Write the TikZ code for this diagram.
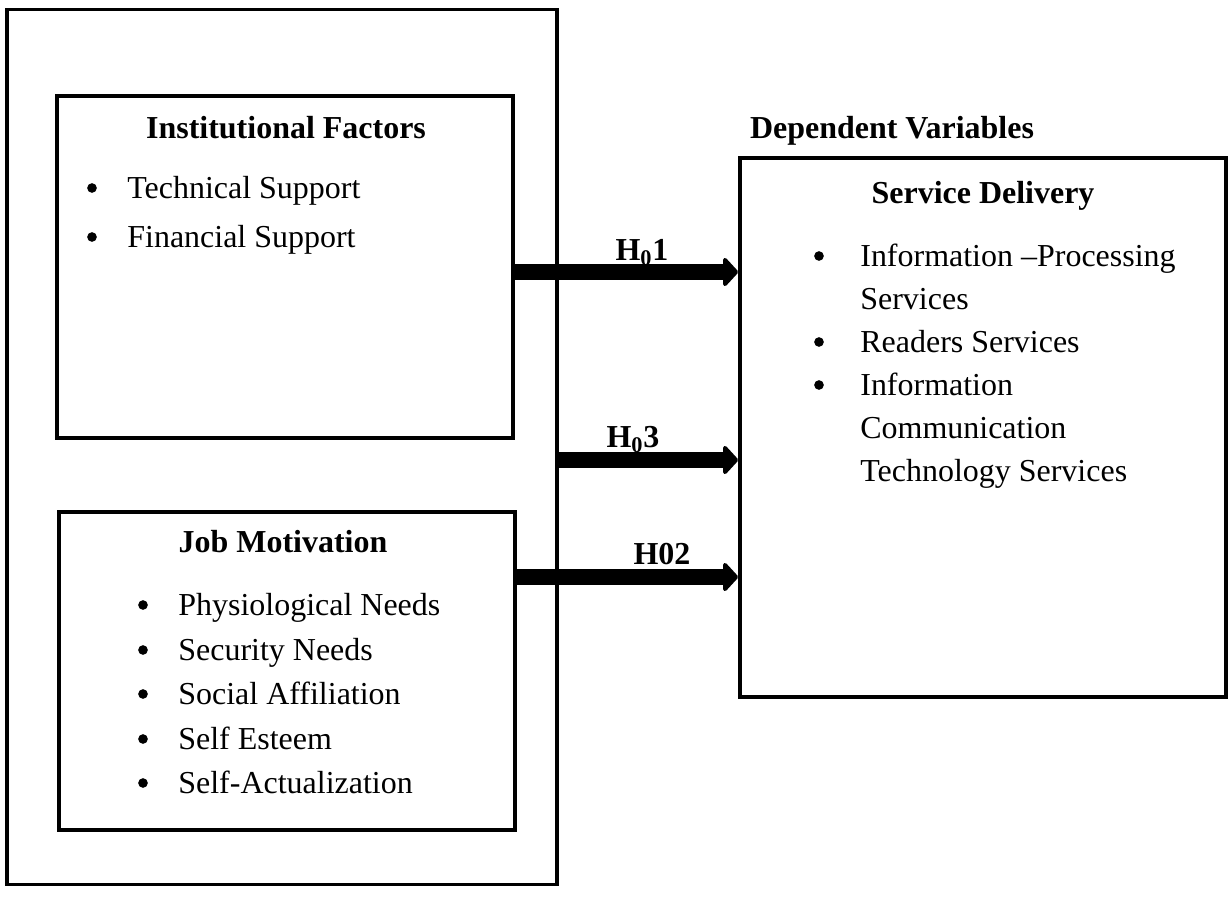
\documentclass[tikz,border=0pt]{standalone}
\usepackage{fontspec}
\setmainfont{Liberation Serif}
\usetikzlibrary{arrows.meta}
\begin{document}
\begin{tikzpicture}[x=0.02cm, y=-0.02cm,
  box/.style={draw, line width=2.2pt, inner sep=0pt},
  head/.style={font=\bfseries, text height=0.7em, text depth=0.22em, yshift=-1.2pt},
  item/.style={anchor=west, inner sep=0pt, text height=0.7em, text depth=0.22em, yshift=-1.7pt},
  dot/.style={circle, fill, inner sep=0pt, minimum size=5.5pt},
  hyp/.style={line width=9.5pt, -{Triangle[width=19pt, length=9pt, round]}}]
\useasboundingbox (0,0) rectangle (1228,899);
\fontsize{18.2}{22}\selectfont
\node[box, minimum width=550*0.02cm, minimum height=875*0.02cm] (outer) at (282,447){};
\node[box, minimum width=456*0.02cm, minimum height=342*0.02cm] (inst) at (285,267){};
\node[box, minimum width=456*0.02cm, minimum height=318*0.02cm] (jm) at (287,671){};
\node[box, minimum width=486*0.02cm, minimum height=539*0.02cm] (sd) at (983,427.5){};
\node[head] (insth) at (286,129){Institutional Factors};
\node[head] (jmh) at (283,543){Job Motivation};
\node[head] (dv) at (892,129){Dependent Variables};
\node[head] (sdh) at (983,194){Service Delivery};
% bullet lists
\foreach \y/\t [count=\i] in {188/Technical Support, 237/Financial Support}{
  \node[dot] (ib\i) at (92,\y){};
  \node[item] (it\i) at (127,\y){\t};
}
\foreach \y/\t [count=\i] in {605/Physiological Needs, 650/Security Needs, 694/Social Affiliation, 739/Self Esteem, 783/Self-Actualization}{
  \node[dot] (jb\i) at (143,\y){};
  \node[item] (jt\i) at (178,\y){\t};
}
\node[dot] (sb1) at (819,256){};
\node[item] (st1) at (860,256){Information –Processing};
\node[item] (st2) at (860,299){Services};
\node[dot] (sb3) at (819,342){};
\node[item] (st3) at (860,342){Readers Services};
\node[dot] (sb4) at (819,385){};
\node[item] (st4) at (860,385){Information};
\node[item] (st5) at (860,428){Communication};
\node[item] (st6) at (860,471){Technology Services};
% hypotheses
\coordinate (h1) at (513,272);
\coordinate (h3) at (557,460);
\coordinate (h2) at (515,577);
\draw[hyp] (h1) -- (h1 -| sd.west);
\draw[hyp] (h3) -- (h3 -| sd.west);
\draw[hyp] (h2) -- (h2 -| sd.west);
\node[head] (l1) at (642,251){H\textsubscript{0}1};
\node[head] (l3) at (633,438){H\textsubscript{0}3};
\node[head] (l2) at (662,555){H02};
\end{tikzpicture}
\end{document}
